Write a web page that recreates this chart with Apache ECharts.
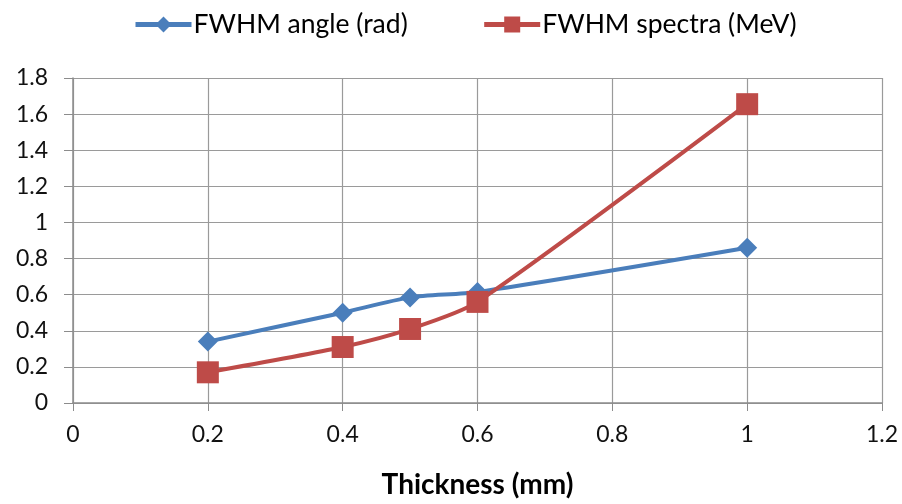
<!DOCTYPE html>
<html><head><meta charset="utf-8">
<script src="https://cdn.jsdelivr.net/npm/echarts@6/dist/echarts.min.js"></script>
<style>html,body{margin:0;padding:0;background:#fff}#c{width:902px;height:504px}</style>
</head><body><div id="c"></div>
<script>
const thickness = [0.2, 0.4, 0.5, 0.6, 1.0];
const fwhmAngle = [0.34, 0.50, 0.585, 0.615, 0.86];
const fwhmSpectra = [0.17, 0.31, 0.41, 0.56, 1.655];
const seriesNames = ['FWHM angle (rad)', 'FWHM spectra (MeV)'];
const xTicks = [0, 0.2, 0.4, 0.6, 0.8, 1, 1.2];
const yTicks = [0, 0.2, 0.4, 0.6, 0.8, 1, 1.2, 1.4, 1.6, 1.8];

const font = 'Lato, "Open Sans", "Liberation Sans", sans-serif';
const chart = echarts.init(document.getElementById('c'));
chart.setOption({
  animation: false,
  textStyle: {fontFamily: font},
  legend: {
    top: 6, left: 128, itemWidth: 56, itemHeight: 20, itemGap: 74,
    textStyle: {fontSize: 26.5, color: '#000', fontFamily: font, padding: [0, 0, 0, -3]},
    lineStyle: {width: 5},
    data: seriesNames
  },
  grid: {left: 73, right: 20, top: 78, bottom: 95},
  xAxis: {
    type: 'value', min: 0, max: 1.2, interval: 0.2,
    name: 'Thickness (mm)', nameLocation: 'middle', nameGap: 68,
    nameTextStyle: {fontSize: 28, fontWeight: 'bold', color: '#000', fontFamily: font},
    axisLine: {lineStyle: {color: '#8c8c8c', width: 1.5}},
    axisTick: {show: true, length: 8, lineStyle: {color: '#8c8c8c'}},
    axisLabel: {fontSize: 23, color: '#111', margin: 20, formatter: v => String(+v.toFixed(1))},
    splitLine: {show: true, lineStyle: {color: '#9a9a9a', width: 1.2}}
  },
  yAxis: {
    type: 'value', min: 0, max: 1.8, interval: 0.2,
    axisLine: {show: true, lineStyle: {color: '#8c8c8c', width: 1.5}},
    axisTick: {show: true, length: 9, lineStyle: {color: '#8c8c8c'}},
    axisLabel: {fontSize: 23, color: '#111', margin: 25, formatter: v => String(+v.toFixed(1))},
    splitLine: {show: true, lineStyle: {color: '#9a9a9a', width: 1.2}}
  },
  series: [
    {
      name: seriesNames[0], type: 'line', smooth: 0.25,
      data: thickness.map((x, i) => [x, fwhmAngle[i]]),
      symbol: 'diamond', symbolSize: 20,
      lineStyle: {width: 4, color: '#4a7ebb'},
      itemStyle: {color: '#4a7ebb'}
    },
    {
      name: seriesNames[1], type: 'line', smooth: 0.25,
      data: thickness.map((x, i) => [x, fwhmSpectra[i]]),
      symbol: 'rect', symbolSize: 22,
      lineStyle: {width: 4, color: '#be4b48'},
      itemStyle: {color: '#be4b48'}
    }
  ]
});
</script></body></html>
